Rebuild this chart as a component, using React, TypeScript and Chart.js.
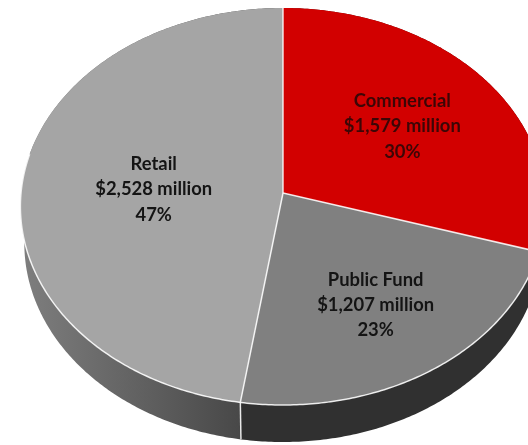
import React, { useEffect, useRef } from "react";
import { Chart, registerables } from "chart.js";

Chart.register(...registerables);

const categories = ["Commercial", "Public Fund", "Retail"];
const amounts = [1579, 1207, 2528];
const percents = [30, 23, 47];
const topColors = ["#d20000", "#808080", "#a5a5a5"];
const labelColors = ["#3c0606", "#141414", "#141414"];
const labelRadii = [0.58, 0.64, 0.5];
const labelDrop = [0, 1, 4];

const CX = 283;
const CY = 193;
const A = 262;
const B = 197.6;
const K = 0.068;
const DEPTH = 37;
const LOWER_SCALE = 0.985;

const project = (a: number, r = 1, lower = false) => {
  const u = Math.cos(a) * r;
  const v = Math.sin(a) * r;
  const d = 1 - K * v;
  const s = lower ? LOWER_SCALE : 1;
  return { x: CX + (A * s * u) / d, y: CY + (lower ? DEPTH : 0) + (B * v) / d };
};

const traceRim = (ctx: CanvasRenderingContext2D, a0: number, a1: number, lower = false, first = false) => {
  const n = Math.max(8, Math.ceil(Math.abs(a1 - a0) * 90));
  for (let i = 0; i <= n; i++) {
    const p = project(a0 + ((a1 - a0) * i) / n, 1, lower);
    if (i === 0 && first) ctx.moveTo(p.x, p.y);
    else ctx.lineTo(p.x, p.y);
  }
};

const pie3d = {
  id: "pie3d",
  beforeDatasetDraw(chart: any) {
    const ctx: CanvasRenderingContext2D = chart.ctx;
    const arcs = chart.getDatasetMeta(0).data;
    ctx.save();
    ctx.fillStyle = "#ffffff";
    ctx.fillRect(0, 0, chart.width, chart.height);

    // side walls
    const retailWall = ctx.createLinearGradient(22, 0, 242, 0);
    retailWall.addColorStop(0, "#7e7e7e");
    retailWall.addColorStop(1, "#484848");
    const wallFills: (string | CanvasGradient)[] = ["#5c0000", "#303030", retailWall];
    arcs.forEach((arc: any, i: number) => {
      ctx.beginPath();
      traceRim(ctx, arc.startAngle, arc.endAngle, false, true);
      traceRim(ctx, arc.endAngle, arc.startAngle, true);
      ctx.closePath();
      ctx.fillStyle = wallFills[i];
      ctx.fill();
    });

    // top surfaces
    arcs.forEach((arc: any, i: number) => {
      ctx.beginPath();
      ctx.moveTo(CX, CY);
      traceRim(ctx, arc.startAngle, arc.endAngle);
      ctx.closePath();
      ctx.fillStyle = topColors[i];
      ctx.fill();
    });

    // white separators
    ctx.strokeStyle = "rgba(255,255,255,0.85)";
    ctx.lineWidth = 1.5;
    arcs.forEach((arc: any) => {
      const p = project(arc.startAngle);
      ctx.beginPath();
      ctx.moveTo(CX, CY);
      ctx.lineTo(p.x, p.y);
      ctx.stroke();
      const q = project(arc.startAngle, 1, true);
      if (Math.sin(arc.startAngle) > 0) {
        ctx.beginPath();
        ctx.moveTo(p.x, p.y);
        ctx.lineTo(q.x, q.y);
        ctx.stroke();
      }
    });
    ctx.beginPath();
    traceRim(ctx, -0.02, Math.PI + 0.2, false, true);
    ctx.stroke();

    // labels
    ctx.textAlign = "center";
    ctx.textBaseline = "middle";
    ctx.font = "bold 18.4px Lato";
    arcs.forEach((arc: any, i: number) => {
      const p = project((arc.startAngle + arc.endAngle) / 2, labelRadii[i]);
      ctx.fillStyle = labelColors[i];
      const lines = [categories[i], `$${amounts[i].toLocaleString("en-US")} million`, `${percents[i]}%`];
      lines.forEach((t, j) => ctx.fillText(t, p.x + (i === 2 ? 1 : 0), p.y + labelDrop[i] + (j - 1) * 25.2));
    });
    ctx.restore();
    return false;
  },
};

export default function App() {
  const ref = useRef<HTMLCanvasElement>(null);
  useEffect(() => {
    document.body.style.margin = "0";
    const chart = new Chart(ref.current as HTMLCanvasElement, {
      type: "pie",
      data: { labels: categories, datasets: [{ data: amounts, backgroundColor: topColors, borderWidth: 0 }] },
      options: {
        animation: false,
        responsive: false,
        rotation: 0,
        plugins: { legend: { display: false }, tooltip: { enabled: false } },
      },
      plugins: [pie3d],
    });
    return () => chart.destroy();
  }, []);
  return <canvas ref={ref} width={528} height={445} style={{ display: "block", filter: "blur(0.5px)" }} />;
}
